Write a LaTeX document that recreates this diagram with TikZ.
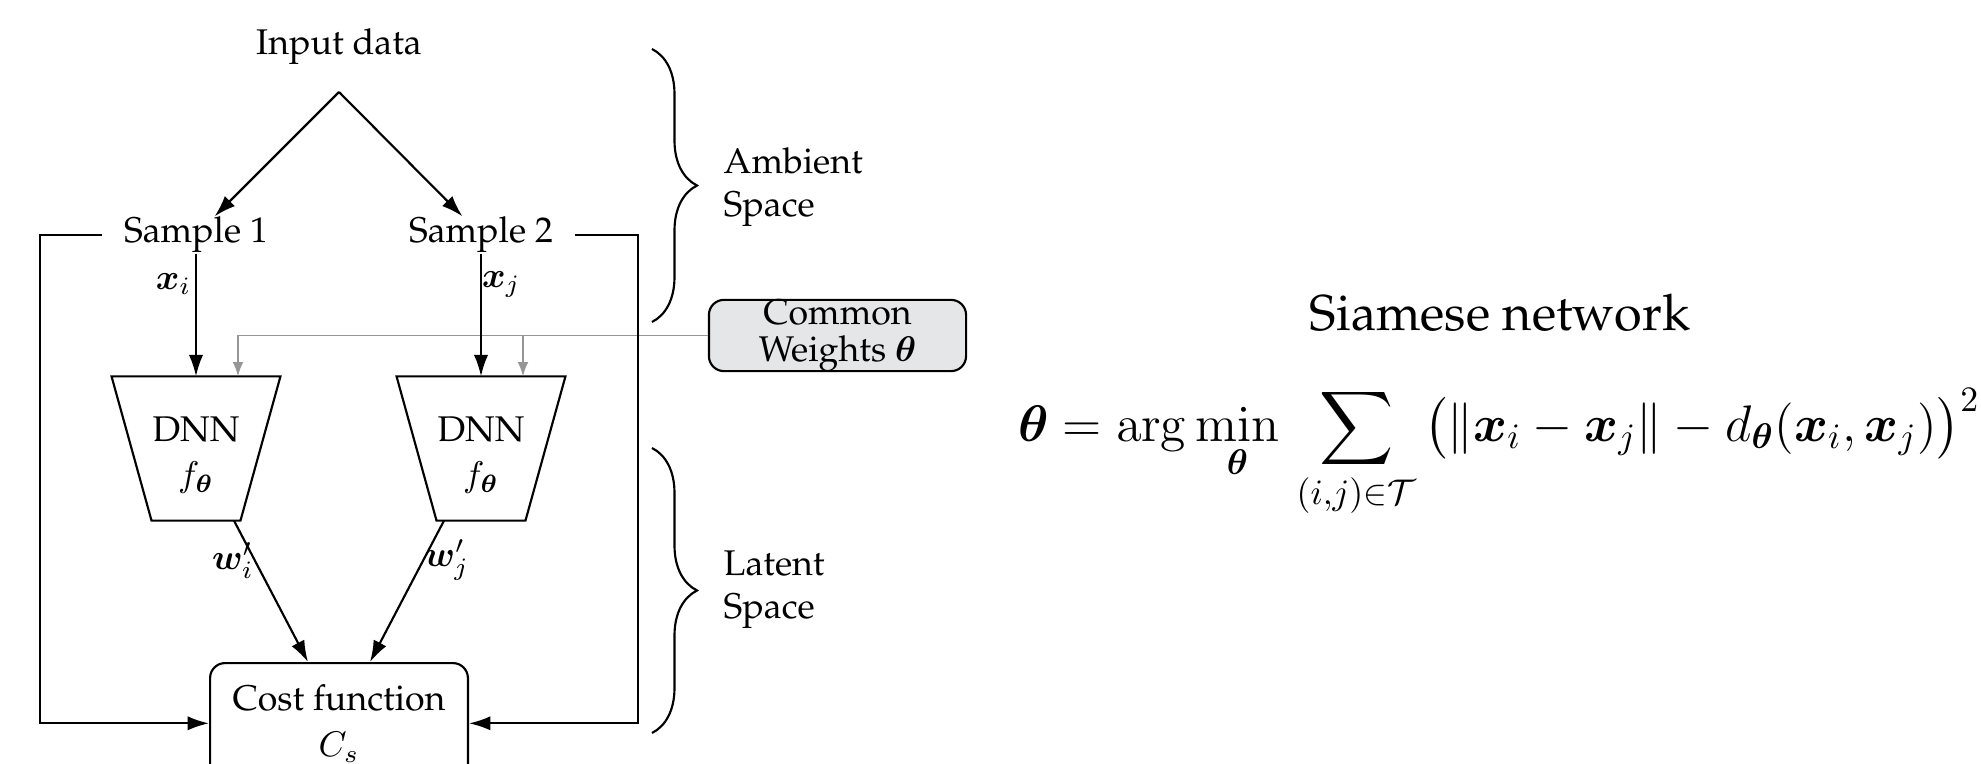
\documentclass[tikz,border=0pt]{standalone}
\usepackage[T1]{fontenc}
\renewcommand{\rmdefault}{ppl}
\usepackage{amsmath,bm}
\usetikzlibrary{arrows.meta,calc,decorations.pathreplacing}
\definecolor{wfill}{RGB}{229,230,232}
\definecolor{wline}{RGB}{150,150,150}
\newcommand{\bigtext}{\fontsize{14.1}{17}\selectfont}
\begin{document}
\begin{tikzpicture}[x=0.28pt,y=-0.28pt,
  line/.style={draw=black, line width=0.6pt},
  arr/.style={line, -{Latex[length=6pt,width=4pt]}},
  garr/.style={draw=wline, line width=0.5pt, -{Latex[length=4pt,width=3pt]}},
  lbl/.style={inner sep=0pt},
  dnn/.style={inner sep=0pt, minimum width=46.9pt, minimum height=40pt},
  roundbox/.style={draw, line width=0.6pt, rounded corners=4.2pt, align=center},
  brace/.style={decorate, decoration={brace, amplitude=12.6pt}, line width=0.6pt}
]
\useasboundingbox (0,0) rectangle (1981,764);

% nodes
\node[lbl] (in) at (339,47) {Input data};
\coordinate (fork) at (339,92);
\node[lbl] (s1) at (196,235) {Sample 1};
\node[lbl] (s2) at (481,235) {Sample 2};
\node[dnn] (d1) at (196,448.5) {};
\node[dnn] (d2) at (481,448.5) {};
\node[lbl, align=center] (d1t) at ($(d1)+(0,7)$) {DNN\\[0.6pt]$f_{\bm\theta}$};
\node[lbl, align=center] (d2t) at ($(d2)+(0,7)$) {DNN\\[0.6pt]$f_{\bm\theta}$};
\node[roundbox, minimum width=72.2pt, anchor=north, inner ysep=6pt] (cost) at (339,662) {Cost function\\[1pt]$C_s$};
\node[roundbox, fill=wfill, minimum width=72pt, inner sep=0pt] (cw) at (837.5,335.5) {Common\\[-1.8pt]Weights $\bm\theta$};

% trapezoid outlines of the two networks
\foreach \n in {d1,d2}
  \draw[line] (\n.north west) -- (\n.north east) -- ($(\n.south east)+(-40,0)$) -- ($(\n.south west)+(40,0)$) -- cycle;

% shared weights
\coordinate (g1) at ($(d1.north)+(42,0)$);
\coordinate (g2) at ($(d2.north)+(42,0)$);
\draw[garr] (cw.west) -| (g1);
\draw[garr] (cw.west -| g2) -- (g2);

% data flow
\draw[arr] (fork) -- (s1);
\draw[arr] (fork) -- (s2);
\draw[arr] (s1.south) -- node[lbl, pos=0.25, anchor=east, xshift=-1pt] {$\bm{x}_i$} (d1.north);
\draw[arr] (s2.south) -- node[lbl, pos=0.25, anchor=west] {$\bm{x}_j$} (d2.north);
\draw[arr] ($(d1.south)+(38,0)$) -- node[lbl, pos=0.28, anchor=east] {$\bm{w}'_i$} ($(cost.north)+(-31,0)$);
\draw[arr] ($(d2.south)+(-37,0)$) -- node[lbl, pos=0.28, anchor=west] {$\bm{w}'_j$} ($(cost.north)+(31,0)$);

% sample feedback rails
\coordinate (railL) at (40,0);
\coordinate (railR) at (638,0);
\draw[arr] ([xshift=-6pt]s1.west) -- (s1.west -| railL) -- (cost.west -| railL) -- (cost.west);
\draw[arr] ([xshift=6pt]s2.east) -- (s2.east -| railR) -- (cost.east -| railR) -- (cost.east);

% space braces
\draw[brace] (652,49) -- (652,322);
\draw[brace] (652,448) -- (652,733);
\node[lbl, align=left, anchor=west] (amb) at (723,187) {Ambient\\Space};
\node[lbl, align=left, anchor=west] (lat) at (723,590) {Latent\\Space};

% objective
\node[lbl, font=\bigtext] (title) at (1500,313) {Siamese network};
\node[lbl, anchor=base] (eq) at (1499,441) {\bigtext$\displaystyle \bm\theta = \arg\min_{\bm\theta}\, \sum_{(i,j)\in\mathcal{T}} \big(\|\bm{x}_i-\bm{x}_j\|-d_{\bm\theta}(\bm{x}_i,\bm{x}_j)\big)^2$};
\end{tikzpicture}
\end{document}
